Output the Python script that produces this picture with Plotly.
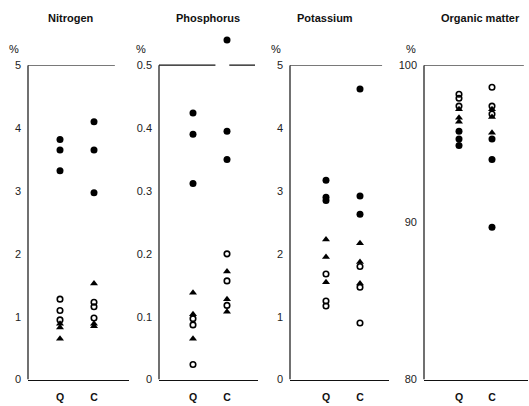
import plotly.graph_objects as go

# ---------------- data ----------------
categories = ["Q", "C"]
panel_titles = ["Nitrogen", "Phosphorus", "Potassium", "Organic matter"]

# Nitrogen (%)
nitrogen_filled_q = [3.82, 3.65, 3.32]
nitrogen_filled_c = [4.10, 3.65, 2.97]
nitrogen_open_q = [1.28, 1.10, 0.95]
nitrogen_open_c = [1.23, 1.16, 0.98]
nitrogen_tri_q = [0.89, 0.83, 0.65]
nitrogen_tri_c = [1.53, 0.89, 0.85]

# Phosphorus (%)
phosphorus_filled_q = [0.424, 0.390, 0.312]
phosphorus_filled_c = [0.540, 0.395, 0.350]
phosphorus_open_q = [0.097, 0.087, 0.024]
phosphorus_open_c = [0.200, 0.157, 0.118]
phosphorus_tri_q = [0.138, 0.104, 0.065]
phosphorus_tri_c = [0.172, 0.128, 0.108]

# Potassium (%)
potassium_filled_q = [3.17, 2.90, 2.85]
potassium_filled_c = [4.62, 2.92, 2.63]
potassium_open_q = [1.68, 1.25, 1.17]
potassium_open_c = [1.80, 1.47, 0.90]
potassium_tri_q = [2.23, 1.95, 1.55]
potassium_tri_c = [2.17, 1.87, 1.53]

# Organic matter (%)
organic_filled_q = [95.8, 95.3, 94.9]
organic_filled_c = [95.3, 94.0, 89.7]
organic_open_q = [98.15, 97.9, 97.4]
organic_open_c = [98.6, 97.4, 96.9]
organic_tri_q = [97.2, 96.65, 96.4]
organic_tri_c = [97.2, 96.7, 95.7]

y_ticks = [
    ([0, 1, 2, 3, 4, 5], ["0", "1", "2", "3", "4", "5"]),
    ([0, 0.1, 0.2, 0.3, 0.4, 0.5], ["0", "0.1", "0.2", "0.3", "0.4", "0.5"]),
    ([0, 1, 2, 3, 4, 5], ["0", "1", "2", "3", "4", "5"]),
    ([80, 90, 100], ["80", "90", "100"]),
]
# frame range of each panel (the boxed area) and extra headroom above it
y_frames = [(0, 5), (0, 0.5), (0, 5), (80, 100)]
y_headroom = [0, 0.06, 0, 0]

panel_data = [
    (nitrogen_filled_q, nitrogen_filled_c, nitrogen_open_q, nitrogen_open_c, nitrogen_tri_q, nitrogen_tri_c),
    (phosphorus_filled_q, phosphorus_filled_c, phosphorus_open_q, phosphorus_open_c, phosphorus_tri_q, phosphorus_tri_c),
    (potassium_filled_q, potassium_filled_c, potassium_open_q, potassium_open_c, potassium_tri_q, potassium_tri_c),
    (organic_filled_q, organic_filled_c, organic_open_q, organic_open_c, organic_tri_q, organic_tri_c),
]

# ---------------- layout geometry (pixels) ----------------
W, H = 529, 406
geom = [
    (28, 129, 60, 94, [(0.0, 0.86)]),
    (159, 258, 193, 227, [(0.0, 0.57), (0.71, 0.97)]),
    (290, 389, 326, 360, [(0.0, 0.93)]),
    (424, 528, 459, 492, [(0.0, 0.96)]),
]
y_top_px, y_bot_px = 61, 385
title_x_px = [71, 208, 325, 480]
pct_x_px = [14, 141, 276, 411]

font_family = "Liberation Sans, Arial, sans-serif"
LC = "#111"

fig = go.Figure()
layout = dict(
    width=W, height=H,
    margin=dict(l=0, r=0, t=0, b=0),
    paper_bgcolor="white", plot_bgcolor="white",
    showlegend=False,
    font=dict(family=font_family, color=LC, size=10),
)
shapes = []
annotations = []

for i, (data, (left, right, qx, cx, segs)) in enumerate(zip(panel_data, geom)):
    n = i + 1
    xa = "x" if n == 1 else f"x{n}"
    ya = "y" if n == 1 else f"y{n}"
    fq, fc, oq, oc, tq, tc = data
    xs_f = [0] * len(fq) + [1] * len(fc)
    xs_o = [0] * len(oq) + [1] * len(oc)
    xs_t = [0] * len(tq) + [1] * len(tc)
    fig.add_trace(go.Scatter(x=xs_t, y=tq + tc, mode="markers", xaxis=xa, yaxis=ya,
                             cliponaxis=False,
                             marker=dict(symbol="triangle-up", size=7, color="black", line=dict(width=0))))
    fig.add_trace(go.Scatter(x=xs_f, y=fq + fc, mode="markers", xaxis=xa, yaxis=ya,
                             cliponaxis=False,
                             marker=dict(symbol="circle", size=7, color="black", line=dict(width=0))))
    fig.add_trace(go.Scatter(x=xs_o, y=oq + oc, mode="markers", xaxis=xa, yaxis=ya,
                             cliponaxis=False,
                             marker=dict(symbol="circle-open", size=5.5, color="black", line=dict(width=1.6))))

    unit = cx - qx
    lo = -(qx - left) / unit
    hi = 1 + (right - cx) / unit
    xkey = "xaxis" if n == 1 else f"xaxis{n}"
    ykey = "yaxis" if n == 1 else f"yaxis{n}"
    layout[xkey] = dict(
        domain=[left / W, right / W], anchor=ya, range=[lo, hi],
        tickvals=[0, 1], ticktext=categories,
        tickfont=dict(family=font_family, size=10.5, color=LC, weight="bold"),
        showline=True, linecolor=LC, linewidth=1.2,
        showgrid=False, zeroline=False, ticks="", ticklabelstandoff=8,
        fixedrange=True,
    )
    y0, y1 = y_frames[i]
    extra = y_headroom[i]
    px_per_unit = (y_bot_px - y_top_px) / (y1 - y0)
    top_px = y_top_px - extra * px_per_unit
    tv, tt = y_ticks[i]
    layout[ykey] = dict(
        domain=[1 - y_bot_px / H, 1 - top_px / H], anchor=xa, range=[y0, y1 + extra],
        tickvals=tv, ticktext=tt,
        tickfont=dict(family=font_family, size=11, color="#222"),
        showline=False,
        showgrid=False, zeroline=False, ticks="", ticklabelstandoff=6,
        fixedrange=True,
    )
    # left frame line, from the bottom to the top of the frame
    shapes.append(dict(type="line", xref=f"{xa} domain", yref=ya,
                       x0=0, x1=0, y0=y0, y1=y1, line=dict(color=LC, width=1.2)))
    # top frame line segments
    for (a, b) in segs:
        shapes.append(dict(type="line", xref=f"{xa} domain", yref=ya,
                           x0=a, x1=b, y0=y1, y1=y1, line=dict(color=LC, width=1.2)))
    annotations.append(dict(text=panel_titles[i], xref="paper", yref="paper",
                            x=title_x_px[i] / W, y=1 - 12 / H, showarrow=False,
                            xanchor="center", yanchor="middle",
                            font=dict(family=font_family, size=11, color=LC, weight="bold")))
    annotations.append(dict(text="%", xref="paper", yref="paper",
                            x=pct_x_px[i] / W, y=1 - 44 / H, showarrow=False,
                            xanchor="center", yanchor="middle",
                            font=dict(family=font_family, size=11, color=LC)))

layout["shapes"] = shapes
layout["annotations"] = annotations
fig.update_layout(**layout)
fig.write_html("out.html")
